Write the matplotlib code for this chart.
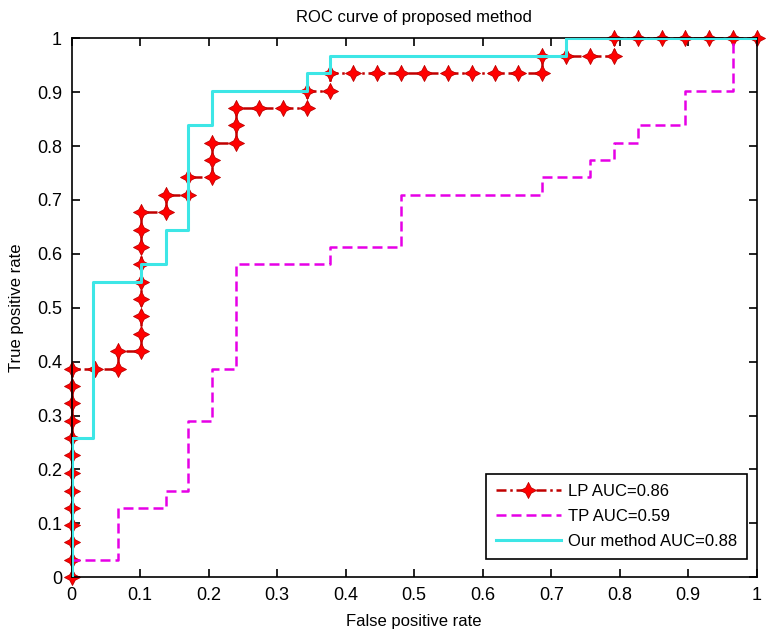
import matplotlib
matplotlib.use("Agg")
import matplotlib.pyplot as plt
from matplotlib.ticker import FixedLocator, FixedFormatter
import numpy as np

plt.rcParams['font.family'] = ['Liberation Sans', 'DejaVu Sans']

# ROC vertices (false positive rate, true positive rate)
lp_fpr = [0, 0, 0, 0, 0, 0, 0, 0, 0, 0, 0, 0, 0,
          0.034, 0.068, 0.068, 0.101,
          0.101, 0.101, 0.101, 0.101, 0.101, 0.101, 0.101, 0.101,
          0.137, 0.137, 0.170, 0.170, 0.205, 0.205, 0.205, 0.240, 0.240, 0.240,
          0.274, 0.308, 0.343, 0.343, 0.377, 0.377,
          0.411, 0.446, 0.480, 0.515, 0.549, 0.584, 0.618, 0.652, 0.687,
          0.687, 0.722, 0.757, 0.791, 0.791,
          0.826, 0.861, 0.896, 0.930, 0.965, 1.0]
lp_tpr = [0, 0.032, 0.065, 0.097, 0.129, 0.161, 0.194, 0.226, 0.258, 0.290, 0.323, 0.355, 0.387,
          0.387, 0.387, 0.419, 0.419,
          0.452, 0.484, 0.516, 0.548, 0.581, 0.613, 0.645, 0.677,
          0.677, 0.710, 0.710, 0.742, 0.742, 0.774, 0.806, 0.806, 0.839, 0.871,
          0.871, 0.871, 0.871, 0.903, 0.903, 0.935,
          0.935, 0.935, 0.935, 0.935, 0.935, 0.935, 0.935, 0.935, 0.935,
          0.968, 0.968, 0.968, 0.968, 1.0,
          1.0, 1.0, 1.0, 1.0, 1.0, 1.0]

tp_fpr = [0, 0, 0.068, 0.068, 0.137, 0.137, 0.170, 0.170, 0.205, 0.205, 0.240, 0.240,
          0.377, 0.377, 0.480, 0.480, 0.687, 0.687, 0.757, 0.757, 0.791, 0.791,
          0.826, 0.826, 0.896, 0.896, 0.965, 0.965, 1.0]
tp_tpr = [0, 0.032, 0.032, 0.129, 0.129, 0.161, 0.161, 0.290, 0.290, 0.387, 0.387, 0.581,
          0.581, 0.613, 0.613, 0.710, 0.710, 0.742, 0.742, 0.774, 0.774, 0.806,
          0.806, 0.839, 0.839, 0.903, 0.903, 1.0, 1.0]

our_fpr = [0, 0, 0.031, 0.031, 0.101, 0.101, 0.137, 0.137, 0.170, 0.170, 0.205, 0.205,
           0.343, 0.343, 0.377, 0.377, 0.722, 0.722, 1.0]
our_tpr = [0, 0.258, 0.258, 0.548, 0.548, 0.581, 0.581, 0.645, 0.645, 0.839, 0.839, 0.903,
           0.903, 0.935, 0.935, 0.968, 0.968, 1.0, 1.0]

labels = ['LP AUC=0.86', 'TP AUC=0.59', 'Our method AUC=0.88']
tick_vals = [0, 0.1, 0.2, 0.3, 0.4, 0.5, 0.6, 0.7, 0.8, 0.9, 1]
tick_text = ['0', '0.1', '0.2', '0.3', '0.4', '0.5', '0.6', '0.7', '0.8', '0.9', '1']

# fat four-pointed star marker shape
_ang = np.arange(9) * np.pi / 4 + np.pi / 2
_rad = np.where(np.arange(9) % 2 == 0, 1.0, 0.48)
star4 = np.column_stack([_rad * np.cos(_ang), _rad * np.sin(_ang)])

fig = plt.figure(figsize=(7.72, 6.35), dpi=100)
ax = fig.add_axes([0.0929, 0.0909, 0.8873, 0.8488])

ax.plot(lp_fpr, lp_tpr, color='#C00000', linestyle=(0, (4, 1.5, 1, 1.5)), linewidth=1.8,
        marker=star4, markersize=11.5, markerfacecolor='#FF0000',
        markeredgecolor='#C00000', markeredgewidth=0.6, label=labels[0], zorder=2,
        clip_on=False)
ax.plot(tp_fpr, tp_tpr, color='#E600E6', linestyle=(0, (4, 2)), linewidth=1.8,
        label=labels[1], zorder=3)
ax.plot(our_fpr, our_tpr, color='#3DE6E6', linewidth=2.2, label=labels[2], zorder=4)

ax.set_xlim(0, 1)
ax.set_ylim(0, 1)
ax.xaxis.set_major_locator(FixedLocator(tick_vals))
ax.xaxis.set_major_formatter(FixedFormatter(tick_text))
ax.yaxis.set_major_locator(FixedLocator(tick_vals))
ax.yaxis.set_major_formatter(FixedFormatter(tick_text))
ax.tick_params(direction='in', length=6, width=1.2, top=True, right=True,
               labelsize=13, pad=7)
for s in ax.spines.values():
    s.set_linewidth(1.2)
ax.set_title('ROC curve of proposed method', fontsize=12, pad=12)
ax.set_xlabel('False positive rate', fontsize=12, labelpad=7)
ax.set_ylabel('True positive rate', fontsize=12, labelpad=9)

leg = ax.legend(loc='lower right', bbox_to_anchor=(0.9863, 0.0334), borderaxespad=0,
                fontsize=12, numpoints=1, handlelength=3.9, handletextpad=0.45,
                labelspacing=0.62, borderpad=0.6, fancybox=False, framealpha=1,
                edgecolor='black')
leg.get_frame().set_linewidth(1.2)

fig.savefig('out.png', dpi=100)
